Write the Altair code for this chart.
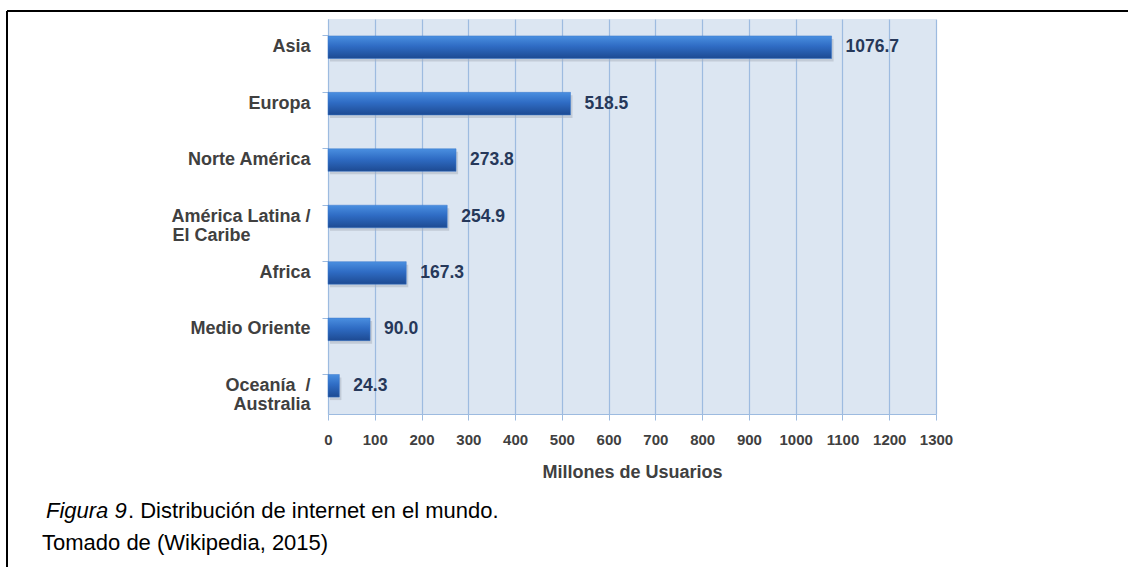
import altair as alt
import pandas as pd

SP = "\u00a0"
ZW = "\u200b"
regions = ["Asia", "Europa", "Norte América",
           "América Latina /|" + ZW + SP + "El Caribe" + SP * 12 + ZW,
           "Africa", "Medio Oriente", "Oceanía" + SP + SP + "/|Australia"]
users = [1076.7, 518.5, 273.8, 254.9, 167.3, 90.0, 24.3]
labels = ["1076.7", "518.5", "273.8", "254.9", "167.3", "90.0", "24.3"]
x_ticks = list(range(0, 1301, 100))

df = pd.DataFrame({"region": regions, "users": users, "label": labels})
one = pd.DataFrame({"k": [0]})

W, H = 608, 395
LEFT, TOP = 328, 19

y_enc = alt.Y("region:N", sort=regions, title=None,
              scale=alt.Scale(paddingInner=0.6, paddingOuter=0.3),
              axis=alt.Axis(labelExpr="split(datum.value, '|')",
                            labelFont="Liberation Sans", labelFontWeight="bold",
                            labelFontSize=18, labelColor="#404040",
                            labelPadding=12, labelLineHeight=19,
                            domainColor="#9dbbe0", tickColor="#9dbbe0",
                            tickSize=6, bandPosition=0, grid=False))
x_enc = alt.X("users:Q", title="Millones de Usuarios",
              scale=alt.Scale(domain=[0, 1300], nice=False),
              axis=alt.Axis(values=x_ticks, format="d", labelFont="Liberation Sans",
                            labelFontWeight="bold", labelFontSize=15, labelOverlap=False,
                            labelFlush=False,
                            labelColor="#404040", labelPadding=12,
                            titleFont="Liberation Sans", titleFontWeight="bold",
                            titleFontSize=18, titleColor="#404040", titlePadding=16,
                            domainColor="#9dbbe0", tickColor="#9dbbe0",
                            tickSize=6, gridColor="#9dbbe0", gridOpacity=1,
                            gridWidth=1.2))

shadow = alt.Chart(df).mark_bar(color="#a8b0bc", opacity=0.5, xOffset=2, yOffset=3).encode(
    x=x_enc, y=y_enc)

bars = alt.Chart(df).mark_bar(
    color=alt.Gradient(gradient="linear", x1=0, y1=0, x2=0, y2=1,
                       stops=[alt.GradientStop(offset=0, color="#4a8fe0"),
                              alt.GradientStop(offset=0.45, color="#2f6cc4"),
                              alt.GradientStop(offset=1, color="#1d4a92")]),
    stroke="#3a78cc", strokeWidth=0.5
).encode(x=x_enc, y=y_enc)

text = alt.Chart(df).mark_text(align="left", dx=14, font="Liberation Sans",
                               fontWeight="bold", fontSize=17.5, color="#26385a").encode(
    x="users:Q", y=alt.Y("region:N", sort=regions), text="label:N")

# frame lines
frame_left = alt.Chart(one).mark_rule(color="#000000", strokeWidth=2).encode(
    x=alt.value(7 - LEFT), y=alt.value(11 - TOP), y2=alt.value(567 - TOP))
frame_top = alt.Chart(one).mark_rule(color="#000000", strokeWidth=2).encode(
    x=alt.value(7 - LEFT), x2=alt.value(1128 - LEFT), y=alt.value(11 - TOP))

cap1 = alt.Chart(one).mark_text(align="left", baseline="alphabetic", font="Liberation Sans",
                                fontSize=22, fontStyle="italic", color="#000000").encode(
    x=alt.value(46 - LEFT), y=alt.value(518 - TOP), text=alt.value("Figura 9"))
cap2 = alt.Chart(one).mark_text(align="left", baseline="alphabetic", font="Liberation Sans",
                                fontSize=22, color="#000000").encode(
    x=alt.value(128 - LEFT), y=alt.value(518 - TOP),
    text=alt.value(". Distribución de internet en el mundo."))
cap3 = alt.Chart(one).mark_text(align="left", baseline="alphabetic", font="Liberation Sans",
                                fontSize=22, color="#000000").encode(
    x=alt.value(42 - LEFT), y=alt.value(550 - TOP), text=alt.value("Tomado de (Wikipedia, 2015)"))

chart = alt.layer(shadow, bars, text, frame_left, frame_top, cap1, cap2, cap3).properties(
    width=W, height=H,
    autosize=alt.AutoSizeParams(type="none"),
    padding={"left": LEFT, "top": TOP, "right": 1128 - LEFT - W, "bottom": 567 - TOP - H},
    background="#ffffff"
).configure_view(fill="#dce6f2", stroke=None)

chart.save("out.html", embed_options={"renderer": "svg", "actions": False})
